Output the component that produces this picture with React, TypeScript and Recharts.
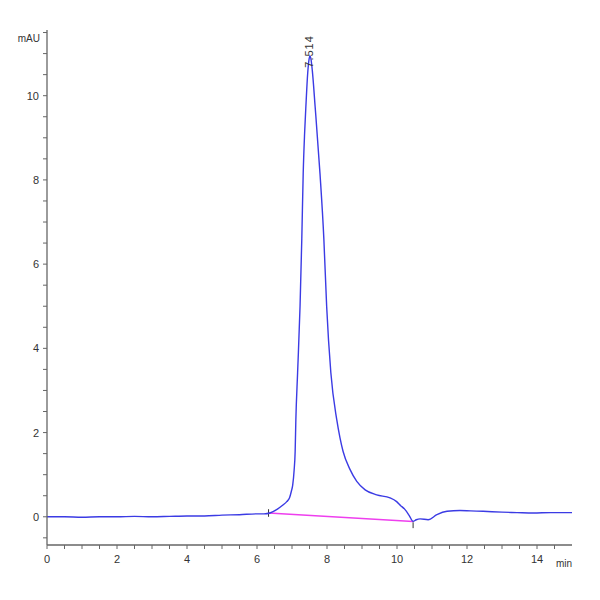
import React from 'react';
import {
  LineChart,
  Line,
  XAxis,
  YAxis,
  ReferenceLine,
  ReferenceDot,
  Label,
} from 'recharts';

// retention time (min) and absorbance (mAU)
const times = [
  0, 0.5, 1, 1.5, 2, 2.5, 3, 3.5, 4, 4.5, 5, 5.5, 6, 6.2, 6.37, 6.56, 6.74, 6.85,
  6.93, 6.98, 7.02, 7.06, 7.09, 7.11, 7.16, 7.23, 7.28, 7.32, 7.36, 7.4, 7.45,
  7.49, 7.514, 7.54, 7.58, 7.66, 7.8, 7.91, 7.99, 8.11, 8.28, 8.37, 8.46,
  8.66, 8.85, 9.09, 9.42, 9.8, 9.99, 10.1, 10.23, 10.35, 10.46, 10.55, 10.66,
  10.89, 11.14, 11.43, 11.8, 12.1, 12.46, 13, 13.43, 13.89, 14.4, 15,
];
const absorbance = [
  0, 0, -0.01, 0, 0, 0.01, 0, 0.01, 0.02, 0.02, 0.04, 0.05, 0.07, 0.07, 0.09,
  0.17, 0.28, 0.36, 0.45, 0.6, 0.75, 1.1, 1.55, 2.3, 3.42, 5.0, 6.6, 8.15, 9.1,
  9.8, 10.55, 10.88, 10.95, 10.88, 10.6, 9.75, 8.15, 6.6, 5.0, 3.42, 2.3,
  1.88, 1.55, 1.12, 0.84, 0.64, 0.52, 0.45, 0.36, 0.27, 0.17, 0.03, -0.11, -0.07,
  -0.05, -0.07, 0.05, 0.13, 0.15, 0.14, 0.13, 0.11, 0.1, 0.09, 0.1, 0.1,
];

const peak = { time: 7.514, height: 10.95, label: '7.514' };
const baselineStart = { time: 6.33, value: 0.09 };
const baselineEnd = { time: 10.46, value: -0.11 };

const xMajor = [0, 2, 4, 6, 8, 10, 12, 14];
const yMajor = [0, 2, 4, 6, 8, 10];
const xTicks = Array.from({ length: 30 }, (_, i) => i * 0.5);
const yTicks = Array.from({ length: 25 }, (_, i) => -0.5 + i * 0.5);

const data = times.map((t, i) => ({ t, v: absorbance[i] }));

const AXIS = '#666';
const FONT = '"Liberation Sans", Arial, sans-serif';

const XTick = (props: any) => {
  const { x, y, payload } = props;
  if (!xMajor.includes(payload.value)) return <g />;
  return (
    <text x={x} y={y + 12} textAnchor="middle" fontSize={11} fill="#333" fontFamily={FONT}>
      {payload.value}
    </text>
  );
};

const YTick = (props: any) => {
  const { x, y, payload } = props;
  if (!yMajor.includes(payload.value)) return <g />;
  return (
    <text x={x - 2} y={y + 4} textAnchor="end" fontSize={11} fill="#333" fontFamily={FONT}>
      {payload.value}
    </text>
  );
};

const PeakLabel = (props: any) => {
  const { cx, cy } = props;
  if (cx == null || cy == null) return <g />;
  const x = cx + 3;
  const y = cy + 12;
  return (
    <text
      x={x}
      y={y}
      transform={`rotate(-90 ${x} ${y})`}
      fontSize={11}
      fill="#333"
      fontFamily={FONT}
      letterSpacing={1}
    >
      {peak.label}
    </text>
  );
};

const App: React.FC = () => {
  return (
    <div style={{ width: 600, height: 600, background: '#fff' }}>
      <style>{'body{margin:0;background:#fff}'}</style>
      <LineChart
        width={600}
        height={600}
        data={data}
        margin={{ top: 30, right: 28, bottom: 0, left: 0 }}
      >
        <XAxis
          dataKey="t"
          type="number"
          domain={[0, 15]}
          ticks={xTicks}
          interval={0}
          height={55}
          tick={<XTick />}
          tickSize={4}
          axisLine={{ stroke: AXIS, strokeWidth: 1.3 }}
          tickLine={{ stroke: AXIS }}
          allowDataOverflow
        >
          <Label
            content={() => (
              <text x={572} y={567} textAnchor="end" fontSize={10} fill="#333" fontFamily={FONT}>
                min
              </text>
            )}
          />
        </XAxis>
        <YAxis
          type="number"
          domain={[-0.67, 11.56]}
          ticks={yTicks}
          interval={0}
          width={47}
          tick={<YTick />}
          tickSize={4}
          axisLine={{ stroke: AXIS, strokeWidth: 1.3 }}
          tickLine={{ stroke: AXIS }}
          allowDataOverflow
        >
          <Label
            content={() => (
              <text x={40} y={42} textAnchor="end" fontSize={10} fill="#333" fontFamily={FONT}>
                mAU
              </text>
            )}
          />
        </YAxis>
        <ReferenceLine
          segment={[
            { x: baselineStart.time, y: baselineStart.value },
            { x: baselineEnd.time, y: baselineEnd.value },
          ]}
          stroke="#ee3fee"
          strokeWidth={1.5}
          ifOverflow="visible"
        />
        <ReferenceLine
          segment={[
            { x: baselineStart.time, y: 0.0 },
            { x: baselineStart.time, y: 0.18 },
          ]}
          stroke="#333"
          strokeWidth={1}
          ifOverflow="visible"
        />
        <ReferenceLine
          segment={[
            { x: baselineEnd.time, y: -0.13 },
            { x: baselineEnd.time, y: -0.27 },
          ]}
          stroke="#333"
          strokeWidth={1}
          ifOverflow="visible"
        />
        <Line
          type="monotone"
          dataKey="v"
          stroke="#3b3be4"
          strokeWidth={1.4}
          dot={false}
          isAnimationActive={false}
        />
        <ReferenceDot
          x={peak.time}
          y={peak.height}
          r={0}
          ifOverflow="visible"
          shape={<PeakLabel />}
        />
      </LineChart>
    </div>
  );
};

export default App;
